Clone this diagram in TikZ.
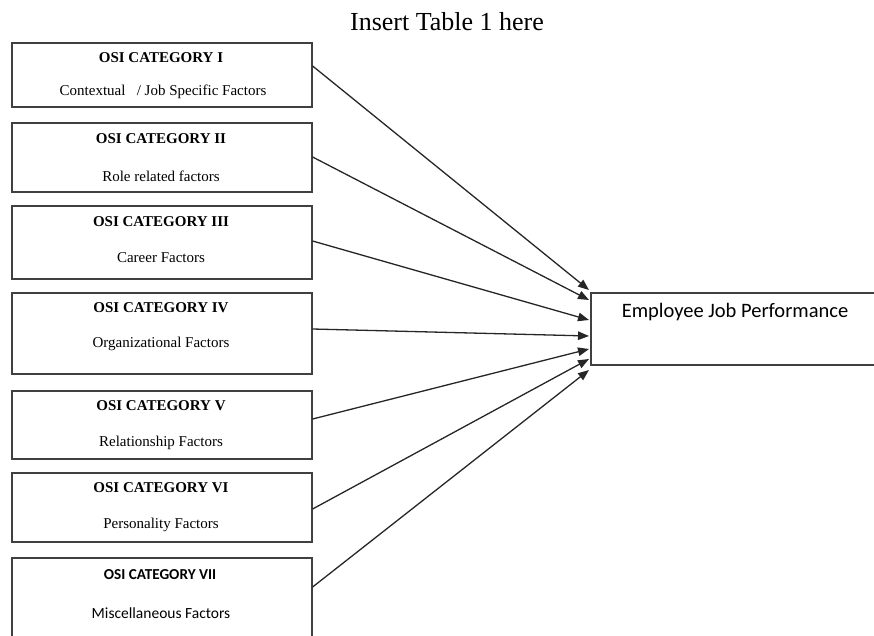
\documentclass[tikz,border=0pt]{standalone}
\usepackage{fontspec}
\setmainfont{Liberation Serif}
\newfontfamily\calfont{Carlito}
\usetikzlibrary{arrows.meta}
\definecolor{edgegray}{HTML}{404040}
\tikzset{
  osibox/.style={draw=edgegray, line width=1.6pt, minimum width=300pt, anchor=north west, inner sep=0pt},
  ttl/.style={font=\fontsize{15}{18}\selectfont\bfseries, inner sep=0pt},
  sub/.style={font=\fontsize{15}{18}\selectfont, inner sep=0pt},
  ttlsans/.style={font=\calfont\fontsize{15.2}{18}\selectfont\bfseries, inner sep=0pt},
  subsans/.style={font=\calfont\fontsize{15.5}{18}\selectfont, inner sep=0pt},
  conn/.style={draw=black!85, line width=1.3pt, -{Triangle[length=11pt,width=8.5pt]}}
}
\begin{document}
\begin{tikzpicture}[x=1pt,y=-1pt]
\useasboundingbox (0,0) rectangle (874,636);
\clip (0,0) rectangle (874,636);
\node[font=\fontsize{26}{30}\selectfont, inner sep=0pt] (head) at (447,22) {Insert Table 1 here};
% boxes
\node[osibox, minimum height=64pt] (b1) at (11,42) {};
\node[osibox, minimum height=69pt] (b2) at (11,122) {};
\node[osibox, minimum height=73pt] (b3) at (11,205) {};
\node[osibox, minimum height=81pt] (b4) at (11,292) {};
\node[osibox, minimum height=68pt] (b5) at (11,390) {};
\node[osibox, minimum height=69pt] (b6) at (11,472) {};
\node[osibox, minimum height=100pt] (b7) at (11,557) {};
% texts
\node[ttl] (t1) at (161,58) {OSI CATEGORY I};
\node[sub] (s1) at (163,92) {Contextual\ \ \ / Job Specific Factors};
\node[ttl] (t2) at (161,139) {OSI CATEGORY II};
\node[sub] (s2) at (161,176) {Role related factors};
\node[ttl] (t3) at (161,222) {OSI CATEGORY III};
\node[sub] (s3) at (161,258) {Career Factors};
\node[ttl] (t4) at (161,308) {OSI CATEGORY IV};
\node[sub] (s4) at (161,344) {Organizational Factors};
\node[ttl] (t5) at (161,406) {OSI CATEGORY V};
\node[sub] (s5) at (161,443) {Relationship Factors};
\node[ttl] (t6) at (161,488) {OSI CATEGORY VI};
\node[sub] (s6) at (161,525) {Personality Factors};
\node[ttlsans] (t7) at (160,575) {OSI CATEGORY VII};
\node[subsans] (s7) at (161,613) {Miscellaneous Factors};
% target
\node[draw=edgegray, line width=1.6pt, minimum width=300pt, minimum height=72pt, anchor=north west, inner sep=0pt] (emp) at (590,292) {};
\node[font=\calfont\fontsize{20.5}{24}\selectfont, inner sep=0pt] (empt) at (735,312) {Employee Job Performance};
% arrow targets
\coordinate (e1) at (589,290);
\coordinate (e2) at (589,300);
\coordinate (e3) at (589,320);
\coordinate (e4) at (589,336);
\coordinate (e5) at (589,349);
\coordinate (e6) at (589,359);
\coordinate (e7) at (589,370);
\draw[conn] (b1.east |- 0,66) -- (e1);
\draw[conn] (b2.east |- 0,157) -- (e2);
\draw[conn] (b3.east |- 0,241) -- (e3);
\draw[conn] (b4.east |- 0,329) -- (e4);
\draw[conn] (b5.east |- 0,419) -- (e5);
\draw[conn] (b6.east |- 0,509) -- (e6);
\draw[conn] (b7.east |- 0,587) -- (e7);
\end{tikzpicture}
\end{document}
